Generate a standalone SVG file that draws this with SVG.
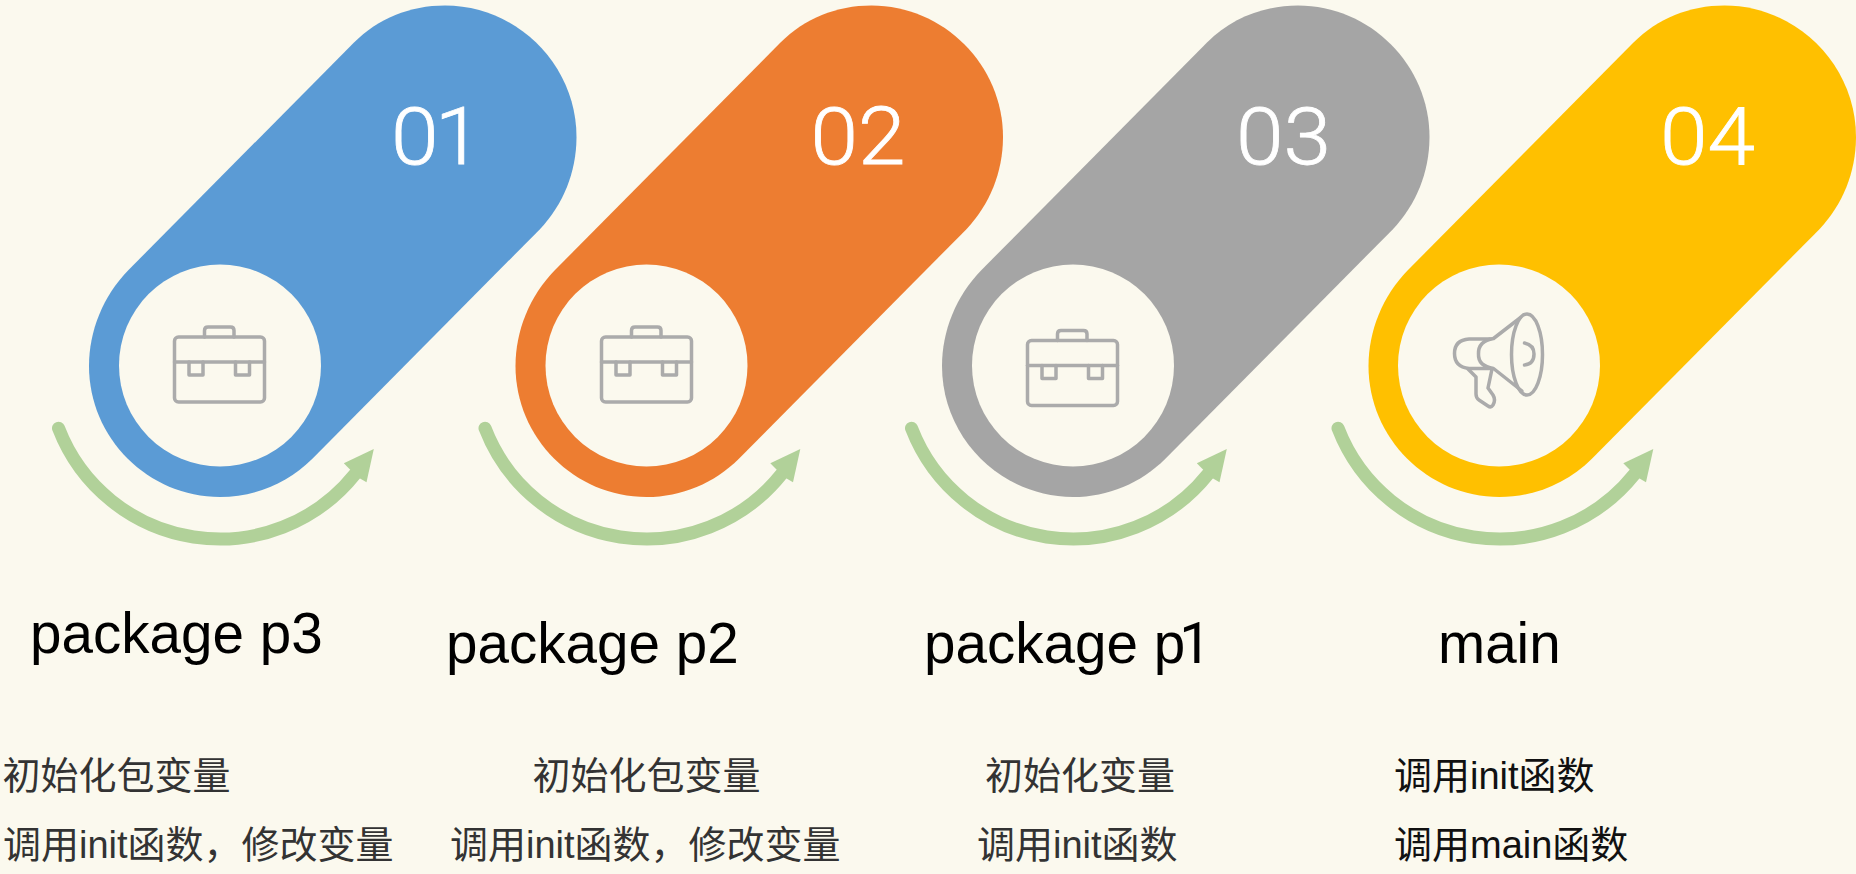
<svg xmlns="http://www.w3.org/2000/svg" width="1856" height="874" viewBox="0 0 1856 874">
<style>
.hole{fill:#FBF9EE}
.ico{fill:none;stroke:#ABABAB;stroke-width:3.5;stroke-linejoin:round;stroke-linecap:round}
.num{font-family:Roboto,"Liberation Sans",sans-serif;font-weight:300;font-size:80px;fill:#FFFFFF;stroke:#FFFFFF;stroke-width:0.8px}
.name{font-family:"Liberation Sans",Arial,sans-serif;font-size:56.6px;fill:#000000}
.cn{font-family:"Liberation Sans","Noto Sans CJK SC",sans-serif;font-size:38px;fill:#333333}
.cn.dark{fill:#111111}
.arc{fill:none;stroke:#B1D199;stroke-width:13;stroke-linecap:round}
.head{fill:#B1D199}
</style>
<defs>
<path id="pill" d="M128.500 270L354 42.500C378 18.500 410 5.500 445 5.500C517 5.500 576.500 65 576.500 137C576.500 172 563 205 539.700 229.400L312.400 458.700C288 483 255 497 220 497C148 497 89 438 89 366C89 331 103 296 128.500 270Z"/>
<g id="case">
<rect x="174.500" y="337" width="90" height="65" rx="4"/>
<path d="M204.500 337V330.500Q204.500 327 208 327H230.500Q234 327 234 330.500V337"/>
<path d="M174.500 362H264.500"/>
<path d="M189 362V375H203V362M235.500 362V375H249.500V362"/>
</g>
<g id="arrow">
<path class="arc" d="M58.500 428.200A173 173 0 0 0 355.200 473.900"/>
<path class="head" d="M373.800 449L343.800 463.300L349.500 469L354 473.500L358.800 477.700L366.500 482.300Z"/>
</g>
</defs>
<rect width="1856" height="874" fill="#FBF9EE"/>
<g id="connectors">
<use href="#arrow"/>
<use href="#arrow" x="426.500"/>
<use href="#arrow" x="853"/>
<use href="#arrow" x="1279.500"/>
</g>
<g id="node-01">
<use href="#pill" fill="#5B9BD5"/>
<circle class="hole" cx="220" cy="365.500" r="101"/>
<use href="#case" class="ico"/>
<text class="num" transform="translate(391 164) scale(1.07 1)" style="letter-spacing:-3.500px">01</text>
<text class="name" x="30" y="653">package p3</text>
<text class="cn" x="2.500" y="789">初始化包变量</text>
<text class="cn" x="3" y="858">调用init函数，修改变量</text>
</g>
<g id="node-02">
<use href="#pill" x="426.500" fill="#ED7D31"/>
<circle class="hole" cx="646.500" cy="365.500" r="101"/>
<use href="#case" x="427" class="ico"/>
<text class="num" transform="translate(810.500 164) scale(1.07 1)">02</text>
<text class="name" x="446" y="663">package p2</text>
<text class="cn" x="532.500" y="789">初始化包变量</text>
<text class="cn" x="450" y="858">调用init函数，修改变量</text>
</g>
<g id="node-03">
<use href="#pill" x="853" fill="#A5A5A5"/>
<circle class="hole" cx="1073" cy="365.500" r="101"/>
<use href="#case" x="853" y="3.500" class="ico"/>
<text class="num" transform="translate(1236 164) scale(1.07 1)">03</text>
<text class="name" x="924" y="663">package p<tspan font-family="Roboto, sans-serif" dx="-6">1</tspan></text>
<text class="cn" x="985" y="789">初始化变量</text>
<text class="cn" x="977" y="858">调用init函数</text>
</g>
<g id="node-04">
<use href="#pill" x="1279.500" fill="#FFC000"/>
<circle class="hole" cx="1499" cy="365.500" r="101"/>
<g class="ico">
<ellipse cx="1527" cy="354.500" rx="15.500" ry="40.500"/>
<path d="M1520 318L1493.500 338.500Q1478 341 1478.500 354Q1478 366 1493.500 368.500L1522 391"/>
<path d="M1490 339H1469Q1454.500 340 1454.500 353.500Q1454.500 367 1469 368.500H1490"/>
<path d="M1468 369L1476 377V394Q1476 398 1479 400L1488 406Q1491 408 1493 405Q1496 400 1493 395L1488 388L1492 369"/>
<path d="M1524.500 343Q1534 345 1534 354Q1534 364 1524.500 365"/>
</g>
<text class="num" transform="translate(1660 164) scale(1.07 1)">04</text>
<text class="name" x="1438" y="663">main</text>
<text class="cn dark" x="1394" y="789">调用init函数</text>
<text class="cn dark" x="1394" y="858">调用main函数</text>
</g>
</svg>
